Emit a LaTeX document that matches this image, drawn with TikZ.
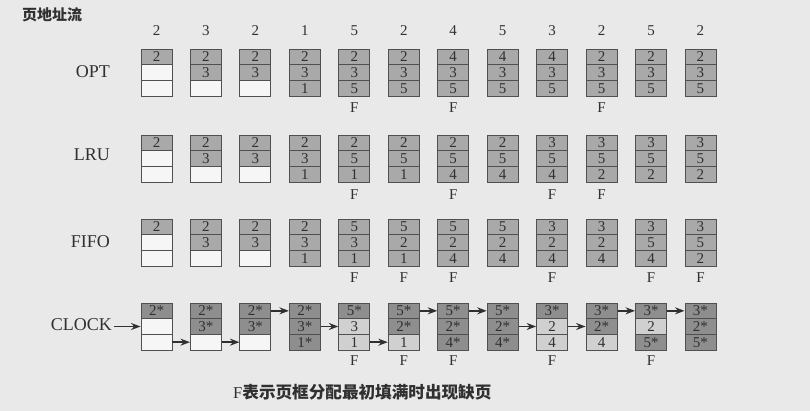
\documentclass[tikz,border=0pt]{standalone}
\usepackage{fontspec}
\setmainfont{Liberation Serif}
\newfontfamily\cjk{Noto Sans CJK SC}
\usetikzlibrary{arrows.meta}
\definecolor{bgc}{HTML}{E9E9E9}
\definecolor{bordc}{HTML}{505050}
\definecolor{shc}{HTML}{A9A9A9}
\definecolor{dkc}{HTML}{8E8E8E}
\definecolor{ltc}{HTML}{D0D0D0}
\definecolor{whc}{HTML}{F6F6F6}
\definecolor{txc}{HTML}{303030}
\tikzset{
  cell/.style={draw=bordc, line width=0.9pt, minimum width=31pt, minimum height=15.67pt,
    inner sep=0pt, text=txc, font=\fontsize{15}{15}\selectfont},
  sh/.style={fill=shc}, dk/.style={fill=dkc}, lt/.style={fill=ltc}, wh/.style={fill=whc},
  flab/.style={text=txc, font=\fontsize{15}{15}\selectfont, inner sep=0pt},
  reflab/.style={text=txc, font=\fontsize{15}{15}\selectfont, inner sep=0pt},
  rowlab/.style={text=txc, font=\fontsize{18}{18}\selectfont, inner sep=0pt, anchor=east},
  arr/.style={draw=txc, line width=1.4pt, -{Stealth[length=9.5pt,width=7pt]}},
}
\newcommand\pgcol[8]{%
  \pgfmathsetmacro\cx{156.5+49.45*(#2-1)}%
  \node[cell,#4] (#1#2a) at (\cx,\rowtop+7.83) {#3};
  \node[cell,#6] (#1#2b) at (\cx,\rowtop+23.5) {#5};
  \node[cell,#8] (#1#2c) at (\cx,\rowtop+39.17) {#7};
}
\begin{document}
\begin{tikzpicture}[x=1pt,y=-1pt]
\fill[bgc] (0,0) rectangle (810,411);
\useasboundingbox (0,0) rectangle (810,411);

\node[text=txc, font=\cjk\bfseries\fontsize{15}{15}\selectfont, anchor=west, inner sep=0pt] (title) at (22,15) {页地址流};

% reference string
\foreach \v [count=\i] in {2,3,2,1,5,2,4,5,3,2,5,2}{
  \pgfmathsetmacro\cx{156.5+49.45*(\i-1)}
  \node[reflab] (r\i) at (\cx,31) {\v};
}

% OPT
\node[rowlab] (lopt) at (110,72) {OPT};
\def\rowtop{49}
\pgcol{o}{1}{2}{sh}{}{wh}{}{wh}
\pgcol{o}{2}{2}{sh}{3}{sh}{}{wh}
\pgcol{o}{3}{2}{sh}{3}{sh}{}{wh}
\pgcol{o}{4}{2}{sh}{3}{sh}{1}{sh}
\pgcol{o}{5}{2}{sh}{3}{sh}{5}{sh}
\pgcol{o}{6}{2}{sh}{3}{sh}{5}{sh}
\pgcol{o}{7}{4}{sh}{3}{sh}{5}{sh}
\pgcol{o}{8}{4}{sh}{3}{sh}{5}{sh}
\pgcol{o}{9}{4}{sh}{3}{sh}{5}{sh}
\pgcol{o}{10}{2}{sh}{3}{sh}{5}{sh}
\pgcol{o}{11}{2}{sh}{3}{sh}{5}{sh}
\pgcol{o}{12}{2}{sh}{3}{sh}{5}{sh}
\foreach \i in {5,7,10}{\node[flab, yshift=-11pt] (oF\i) at (o\i c.south) {F};}

% LRU
\node[rowlab] (llru) at (110,155) {LRU};
\def\rowtop{135}
\pgcol{l}{1}{2}{sh}{}{wh}{}{wh}
\pgcol{l}{2}{2}{sh}{3}{sh}{}{wh}
\pgcol{l}{3}{2}{sh}{3}{sh}{}{wh}
\pgcol{l}{4}{2}{sh}{3}{sh}{1}{sh}
\pgcol{l}{5}{2}{sh}{5}{sh}{1}{sh}
\pgcol{l}{6}{2}{sh}{5}{sh}{1}{sh}
\pgcol{l}{7}{2}{sh}{5}{sh}{4}{sh}
\pgcol{l}{8}{2}{sh}{5}{sh}{4}{sh}
\pgcol{l}{9}{3}{sh}{5}{sh}{4}{sh}
\pgcol{l}{10}{3}{sh}{5}{sh}{2}{sh}
\pgcol{l}{11}{3}{sh}{5}{sh}{2}{sh}
\pgcol{l}{12}{3}{sh}{5}{sh}{2}{sh}
\foreach \i in {5,7,9,10}{\node[flab, yshift=-12pt] (lF\i) at (l\i c.south) {F};}

% FIFO
\node[rowlab] (lfifo) at (110,242) {FIFO};
\def\rowtop{219}
\pgcol{f}{1}{2}{sh}{}{wh}{}{wh}
\pgcol{f}{2}{2}{sh}{3}{sh}{}{wh}
\pgcol{f}{3}{2}{sh}{3}{sh}{}{wh}
\pgcol{f}{4}{2}{sh}{3}{sh}{1}{sh}
\pgcol{f}{5}{5}{sh}{3}{sh}{1}{sh}
\pgcol{f}{6}{5}{sh}{2}{sh}{1}{sh}
\pgcol{f}{7}{5}{sh}{2}{sh}{4}{sh}
\pgcol{f}{8}{5}{sh}{2}{sh}{4}{sh}
\pgcol{f}{9}{3}{sh}{2}{sh}{4}{sh}
\pgcol{f}{10}{3}{sh}{2}{sh}{4}{sh}
\pgcol{f}{11}{3}{sh}{5}{sh}{4}{sh}
\pgcol{f}{12}{3}{sh}{5}{sh}{2}{sh}
\foreach \i in {5,6,7,9,11,12}{\node[flab, yshift=-11pt] (fF\i) at (f\i c.south) {F};}

% CLOCK
\node[rowlab] (lclock) at (112,325) {CLOCK};
\def\rowtop{303}
\pgcol{c}{1}{2*}{dk}{}{wh}{}{wh}
\pgcol{c}{2}{2*}{dk}{3*}{dk}{}{wh}
\pgcol{c}{3}{2*}{dk}{3*}{dk}{}{wh}
\pgcol{c}{4}{2*}{dk}{3*}{dk}{1*}{dk}
\pgcol{c}{5}{5*}{dk}{3}{lt}{1}{lt}
\pgcol{c}{6}{5*}{dk}{2*}{dk}{1}{lt}
\pgcol{c}{7}{5*}{dk}{2*}{dk}{4*}{dk}
\pgcol{c}{8}{5*}{dk}{2*}{dk}{4*}{dk}
\pgcol{c}{9}{3*}{dk}{2}{lt}{4}{lt}
\pgcol{c}{10}{3*}{dk}{2*}{dk}{4}{lt}
\pgcol{c}{11}{3*}{dk}{2}{lt}{5*}{dk}
\pgcol{c}{12}{3*}{dk}{2*}{dk}{5*}{dk}
\foreach \i in {5,6,7,9,11}{\node[flab, yshift=-10pt] (cF\i) at (c\i c.south) {F};}

\draw[arr] ([xshift=1.5pt]lclock.east |- c1b.west) -- (c1b.west);
\draw[arr] (c1c.east) -- (c2c.west);
\draw[arr] (c2c.east) -- (c3c.west);
\draw[arr] (c3a.east) -- (c4a.west);
\draw[arr] (c4b.east) -- (c5b.west);
\draw[arr] (c5c.east) -- (c6c.west);
\draw[arr] (c6a.east) -- (c7a.west);
\draw[arr] (c7a.east) -- (c8a.west);
\draw[arr] (c8b.east) -- (c9b.west);
\draw[arr] (c9b.east) -- (c10b.west);
\draw[arr] (c10a.east) -- (c11a.west);
\draw[arr] (c11a.east) -- (c12a.west);

\node[text=txc, inner sep=0pt, anchor=west] (caption) at (233,392)
  {\fontsize{16.6}{16.6}\selectfont F\cjk\bfseries 表示页框分配最初填满时出现缺页};
\end{tikzpicture}
\end{document}
